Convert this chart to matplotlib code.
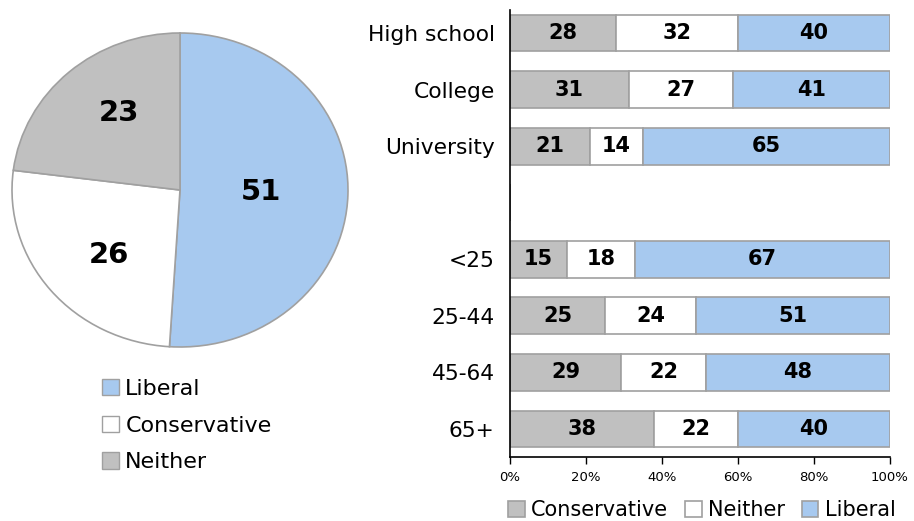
import matplotlib.pyplot as plt
import numpy as np
from matplotlib.patches import Patch

pie_labels = ["Liberal", "Conservative", "Neither"]
pie_values = [51, 26, 23]

categories = ["High school", "College", "University", "", "<25", "25-44", "45-64", "65+"]
conservative = [28, 31, 21, 0, 15, 25, 29, 38]
neither = [32, 27, 14, 0, 18, 24, 22, 22]
liberal = [40, 41, 65, 0, 67, 51, 48, 40]
x_ticks = [0, 20, 40, 60, 80, 100]

BLUE = "#A7C9EF"
GRAY = "#C0C0C0"
WHITE = "#FFFFFF"
EDGE = "#A0A0A0"

plt.rcParams['font.family'] = ['DejaVu Sans']

W, H = 914, 521
fig = plt.figure(figsize=(W/100, H/100), dpi=100)

# Pie
axp = fig.add_axes([12/W, 1-347/H, 336/W, 314/H])
wedges, _ = axp.pie(pie_values, colors=[BLUE, WHITE, GRAY], startangle=90, counterclock=False,
                    wedgeprops=dict(edgecolor=EDGE, linewidth=1.2))
axp.set_aspect('auto')
cum = np.cumsum([0] + pie_values)
for i, v in enumerate(pie_values):
    mid = (cum[i] + cum[i+1]) / 2 / 100 * 2 * np.pi
    ang = np.pi/2 - mid
    rx, ry = (0.48, 0.48) if v > 40 else (0.55, 0.65)
    axp.text(rx*np.cos(ang), ry*np.sin(ang), str(v), ha='center', va='center',
             fontsize=21, fontweight='bold')
axp.set_xlim(-1.0, 1.0)
axp.set_ylim(-1.0, 1.0)

handles = [Patch(facecolor=c, edgecolor=EDGE) for c in [BLUE, WHITE, GRAY]]
fig.legend(handles, pie_labels, loc='upper left', bbox_to_anchor=(102/W, 1-379/H), frameon=False,
           fontsize=16, handlelength=0.75, handleheight=0.75, handletextpad=0.3, labelspacing=0.75,
           borderpad=0, borderaxespad=0)

# Bars
axb = fig.add_axes([510/W, 1-457/H, 380/W, 447/H])
cons = np.array(conservative, float)
neit = np.array(neither, float)
lib = np.array(liberal, float)
tot = cons + neit + lib
tot[tot == 0] = 1
cp, npct, lp = cons/tot*100, neit/tot*100, lib/tot*100
y = np.arange(len(categories))
h = 0.65
kw = dict(height=h, edgecolor=EDGE, linewidth=1.2)
axb.barh(y, cp, color=GRAY, label="Conservative", **kw)
axb.barh(y, npct, left=cp, color=WHITE, label="Neither", **kw)
axb.barh(y, lp, left=cp+npct, color=BLUE, label="Liberal", **kw)
for i in range(len(categories)):
    if categories[i] == "":
        continue
    for left, w, v in [(0, cp[i], conservative[i]), (cp[i], npct[i], neither[i]), (cp[i]+npct[i], lp[i], liberal[i])]:
        axb.text(left + w/2, y[i], str(v), ha='center', va='center', fontsize=15, fontweight='bold')
axb.set_ylim(7.495, -0.407)
axb.set_xlim(0, 100)
axb.set_yticks(y)
axb.set_yticklabels(categories, fontsize=15.7)
axb.tick_params(axis='y', length=0, pad=11)
axb.set_xticks(x_ticks)
axb.set_xticklabels([f"{t}%" for t in x_ticks], fontsize=9.5)
axb.tick_params(axis='x', length=5, width=1, pad=5)
for s in ['top', 'right']:
    axb.spines[s].set_visible(False)
axb.spines['left'].set_linewidth(1.2)
axb.spines['bottom'].set_linewidth(1.2)
axb.legend(loc='center', bbox_to_anchor=(702/W, 1-510/H), bbox_transform=fig.transFigure, ncol=3,
           frameon=False, fontsize=15, handlelength=0.8, handleheight=0.8, handletextpad=0.3,
           columnspacing=0.8, borderpad=0, borderaxespad=0)

fig.savefig("out.png", dpi=100)
